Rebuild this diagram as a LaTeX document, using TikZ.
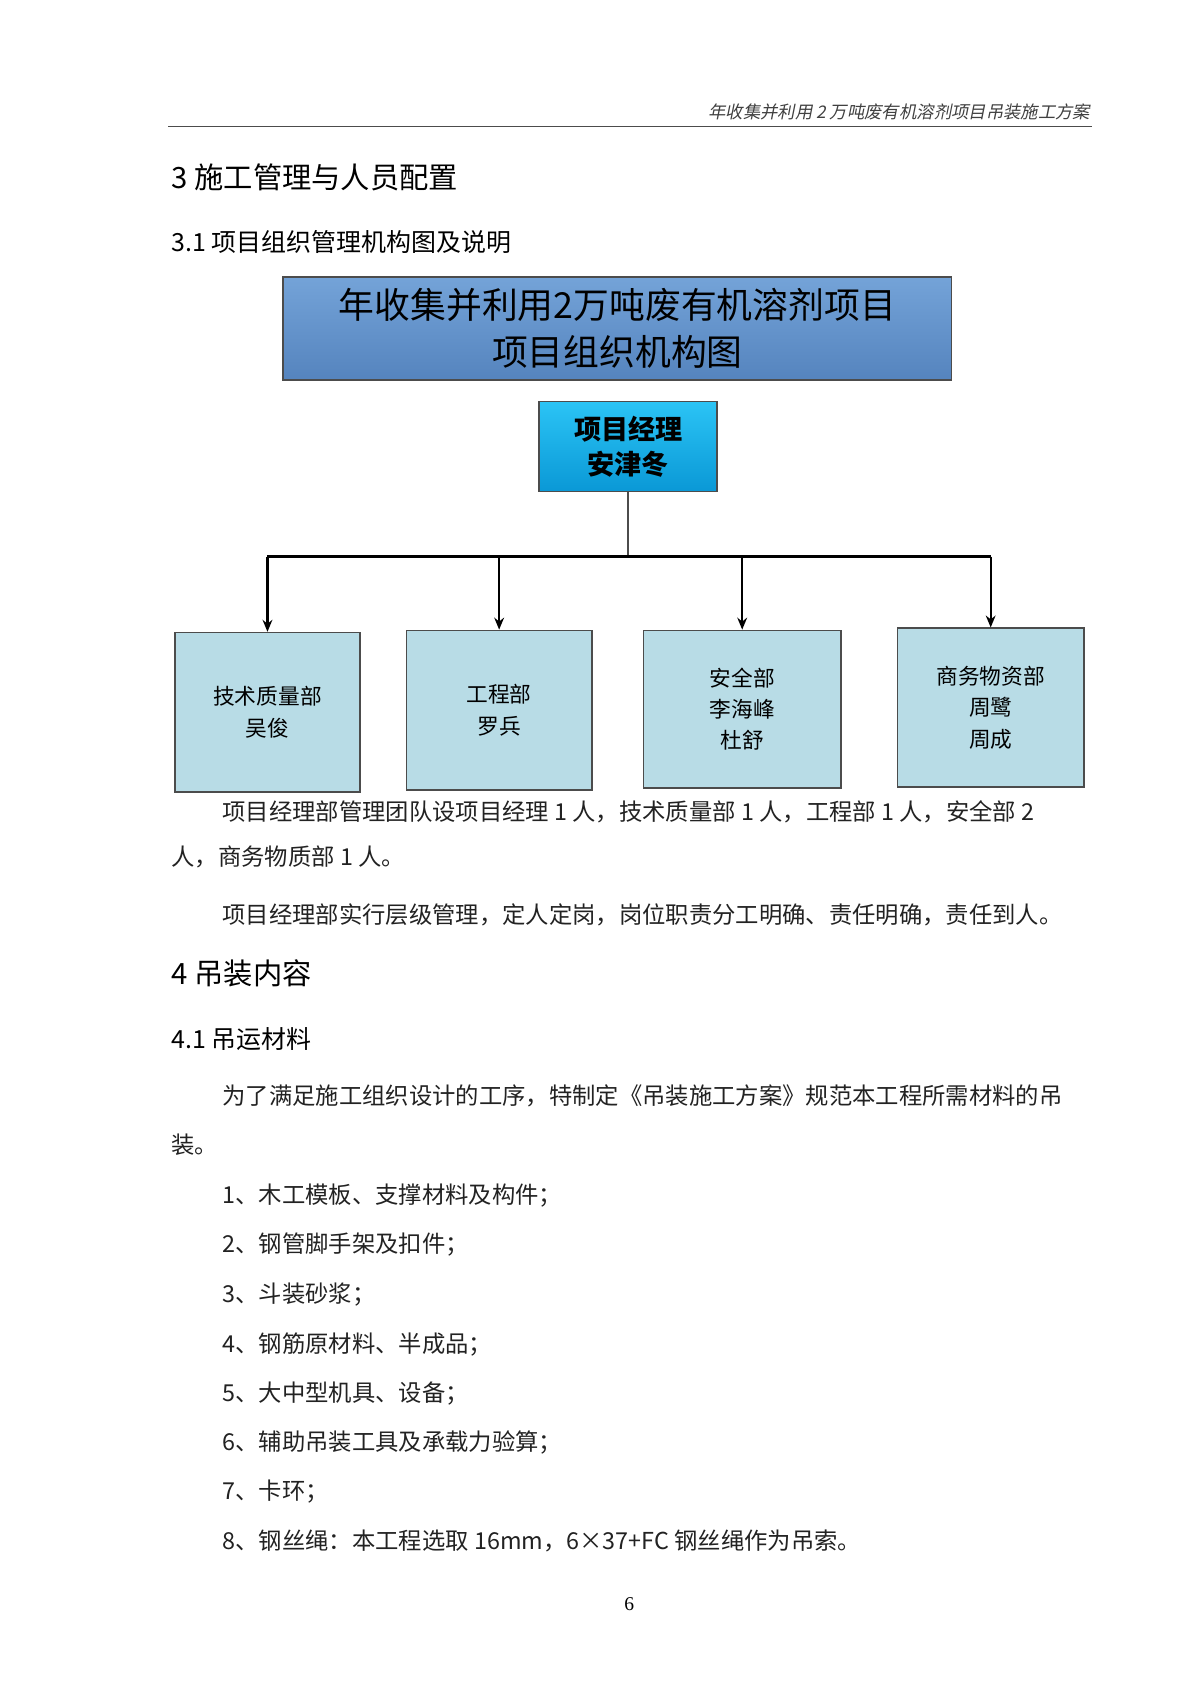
\documentclass[tikz,border=0pt]{standalone}
\usepackage{fontspec}
\setmainfont{Liberation Serif}
\newfontfamily\cjk{Noto Sans CJK SC}
\usetikzlibrary{arrows.meta}
\definecolor{titleA}{HTML}{74A3D8}
\definecolor{titleB}{HTML}{5584BE}
\definecolor{pmA}{HTML}{2BC4F5}
\definecolor{pmB}{HTML}{0A98D6}
\definecolor{dept}{HTML}{B8DCE6}
\definecolor{txt}{HTML}{222222}
\tikzset{
  dbox/.style={draw=black!70, line width=1.5pt, fill=dept, minimum width=171pt, minimum height=147pt, align=center, font=\cjk\fontsize{20}{29}\selectfont, inner sep=0pt},
  body/.style={anchor=west, inner sep=0pt, text=txt, font=\cjk\fontsize{21.5}{24}\selectfont},
  arr/.style={-{Stealth[length=11pt,width=9pt]}, line width=2.2pt},
  h1/.style={anchor=west, inner sep=0pt, font=\cjk\fontsize{27}{30}\selectfont},
  h2/.style={anchor=west, inner sep=0pt, font=\cjk\fontsize{23}{26}\selectfont}
}
\begin{document}
\begin{tikzpicture}[x=1pt,y=-1pt]
\useasboundingbox[fill=white] (0,0) rectangle (1106,1563);
\node[anchor=east, inner sep=0pt, text=black!75, font=\cjk\fontsize{16}{18}\selectfont] (hdr) at (1005,103) {\addfontfeature{FakeSlant=0.2}年收集并利用 2 万吨废有机溶剂项目吊装施工方案};
\draw[black!70, line width=1pt] (155,117) -- (1006,117);
\node[h1] (s3) at (158,163) {3 施工管理与人员配置};
\node[h2] (s31) at (158,223) {3.1 项目组织管理机构图及说明};
\node[draw=black!70, line width=1.5pt, top color=titleA, bottom color=titleB, minimum width=616pt, minimum height=95pt, align=center, inner sep=0pt, font=\cjk\fontsize{33}{43}\selectfont] (title) at (569,302.5) {年收集并利用2万吨废有机溶剂项目\\项目组织机构图};
\node[draw=black!70, line width=1.5pt, top color=pmA, bottom color=pmB, minimum width=164pt, minimum height=83pt, align=center, inner sep=0pt, font=\cjk\bfseries\fontsize{25}{32}\selectfont] (pm) at (579,411.5) {项目经理\\安津冬};
\node[dbox] (d1) at (246.5,656.5) {技术质量部\\吴俊};
\node[dbox] (d2) at (460,654.5) {工程部\\罗兵};
\node[dbox, minimum width=182pt, minimum height=145pt] (d3) at (684,653.5) {安全部\\李海峰\\杜舒};
\node[dbox, minimum width=172pt, minimum height=146pt] (d4) at (913,652) {商务物资部\\周鹭\\周成};
\coordinate (j) at (579,513);
\draw[line width=2.2pt, black!70] (pm.south) -- (j);
\draw[line width=3.2pt] (d1.north |- j) -- (d4.north |- j);
\foreach \d in {d1,d2,d3,d4} \draw[arr] (\d.north |- j) -- (\d.north);
\node[body] (p1) at (205,748) {项目经理部管理团队设项目经理 1 人，技术质量部 1 人，工程部 1 人，安全部 2};
\node[body] (p2) at (158,790) {人，商务物质部 1 人。};
\node[body] (p3) at (205,843) {项目经理部实行层级管理，定人定岗，岗位职责分工明确、责任明确，责任到人。};
\node[h1] (s4) at (158,897) {4 吊装内容};
\node[h2] (s41) at (158,958) {4.1 吊运材料};
\node[body] (p4) at (205,1010) {为了满足施工组织设计的工序，特制定《吊装施工方案》规范本工程所需材料的吊};
\node[body] (p5) at (158,1055) {装。};
\node[body] (l1) at (205,1102) {1、木工模板、支撑材料及构件；};
\node[body] (l2) at (205,1147) {2、钢管脚手架及扣件；};
\node[body] (l3) at (205,1193) {3、斗装砂浆；};
\node[body] (l4) at (205,1239) {4、钢筋原材料、半成品；};
\node[body] (l5) at (205,1284) {5、大中型机具、设备；};
\node[body] (l6) at (205,1329) {6、辅助吊装工具及承载力验算；};
\node[body] (l7) at (205,1375) {7、卡环；};
\node[body] (l8) at (205,1420) {8、钢丝绳：本工程选取 16mm，6×37+FC 钢丝绳作为吊索。};
\node[inner sep=0pt, font=\fontsize{18}{20}\selectfont] (pg) at (580,1478) {6};
\end{tikzpicture}
\end{document}
